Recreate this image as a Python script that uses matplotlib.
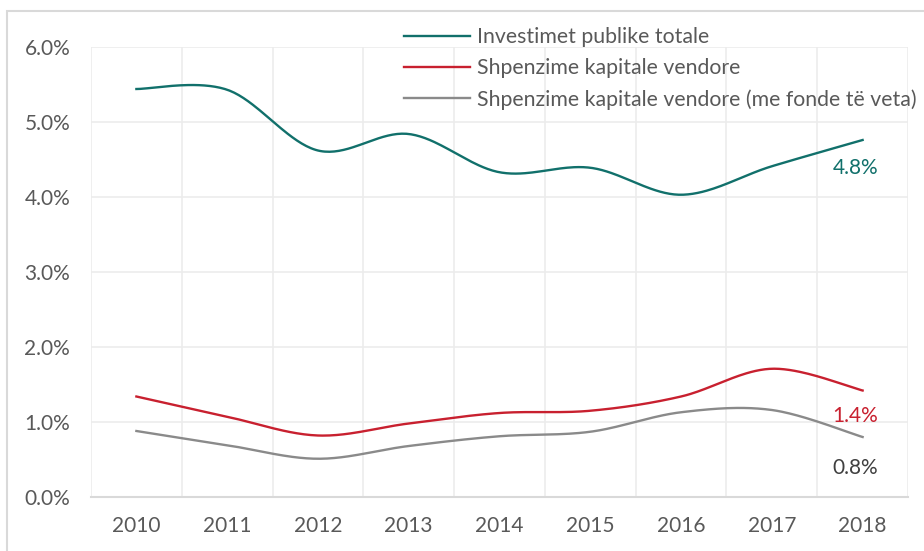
import numpy as np
import matplotlib.pyplot as plt
from matplotlib.patches import Rectangle
from matplotlib.ticker import FuncFormatter

years = ["2010", "2011", "2012", "2013", "2014", "2015", "2016", "2017", "2018"]
investimet = [5.44, 5.43, 4.62, 4.84, 4.33, 4.39, 4.03, 4.41, 4.76]
kapitale = [1.34, 1.07, 0.82, 0.98, 1.12, 1.15, 1.34, 1.71, 1.42]
fonde_veta = [0.88, 0.69, 0.51, 0.68, 0.81, 0.87, 1.13, 1.16, 0.80]

names = [
    "Investimet publike totale",
    "Shpenzime kapitale vendore",
    "Shpenzime kapitale vendore (me fonde të veta)",
]
colors = ["#11706b", "#c8202f", "#8a8a8a"]
end_labels = ["4.8%", "1.4%", "0.8%"]
label_colors = ["#11706b", "#c8202f", "#404040"]
label_offsets = [-0.37, -0.34, -0.41]

plt.rcParams["font.family"] = ["Lato", "DejaVu Sans"]
TXT = "#595959"
FS = 15


def smooth(y, n=40):
    # excel-like smoothed line: bezier segments with catmull-rom control points
    y = np.asarray(y, dtype=float)
    x = np.arange(len(y), dtype=float)
    pts = np.column_stack([x, y])
    ext = np.vstack([pts[0], pts, pts[-1]])
    out = []
    t = np.linspace(0, 1, n)[:, None]
    for i in range(len(pts) - 1):
        p0, p3 = ext[i + 1], ext[i + 2]
        p1 = p0 + (ext[i + 2] - ext[i]) / 6
        p2 = p3 - (ext[i + 3] - ext[i + 1]) / 6
        seg = ((1 - t) ** 3) * p0 + 3 * ((1 - t) ** 2) * t * p1 + 3 * (1 - t) * t ** 2 * p2 + t ** 3 * p3
        out.append(seg if i == 0 else seg[1:])
    out = np.vstack(out)
    return out[:, 0], out[:, 1]


fig = plt.figure(figsize=(9.24, 5.51), dpi=100)
fig.patches.append(Rectangle((7 / 924, -0.05), 1.1, 1 - 11 / 551 + 0.05,
                             transform=fig.transFigure, fill=False,
                             edgecolor="#d9d9d9", linewidth=1.5))
ax = fig.add_axes([91 / 924, 54 / 551, 817 / 924, 450 / 551])

for vals, name, c in zip([investimet, kapitale, fonde_veta], names, colors):
    sx, sy = smooth(vals)
    ax.plot(sx, sy, color=c, linewidth=1.7, label=name)

for vals, lab, c, off in zip([investimet, kapitale, fonde_veta], end_labels, label_colors, label_offsets):
    ax.text(len(years) - 1 - 0.08, vals[-1] + off, lab, color=c, fontsize=FS,
            ha="center", va="center")

ax.set_xlim(-0.5, len(years) - 0.5)
ax.set_ylim(0, 6)
ax.set_yticks(np.arange(0, 7, 1))
ax.yaxis.set_major_formatter(FuncFormatter(lambda v, p: f"{v:.1f}%"))
ax.set_xticks(np.arange(len(years)))
ax.set_xticklabels(years)
ax.set_xticks(np.arange(len(years) + 1) - 0.5, minor=True)

ax.grid(axis="y", which="major", color="#ececec", linewidth=1.2)
ax.grid(axis="x", which="minor", color="#ececec", linewidth=1.2)
ax.set_axisbelow(True)
for s in ["top", "right", "left"]:
    ax.spines[s].set_visible(False)
ax.spines["bottom"].set_color("#d9d9d9")
ax.spines["bottom"].set_linewidth(1.5)
ax.tick_params(axis="both", which="both", length=0, labelsize=FS, labelcolor=TXT)
ax.tick_params(axis="y", pad=15)
ax.tick_params(axis="x", pad=14)

leg = ax.legend(loc="upper left", bbox_to_anchor=(313 / 817, 1 + 20 / 450), frameon=False,
                fontsize=15.3, handlelength=3.1, handletextpad=0.35, labelspacing=0.52,
                borderaxespad=0, borderpad=0)
for t in leg.get_texts():
    t.set_color(TXT)

fig.savefig("out.png", dpi=100)
